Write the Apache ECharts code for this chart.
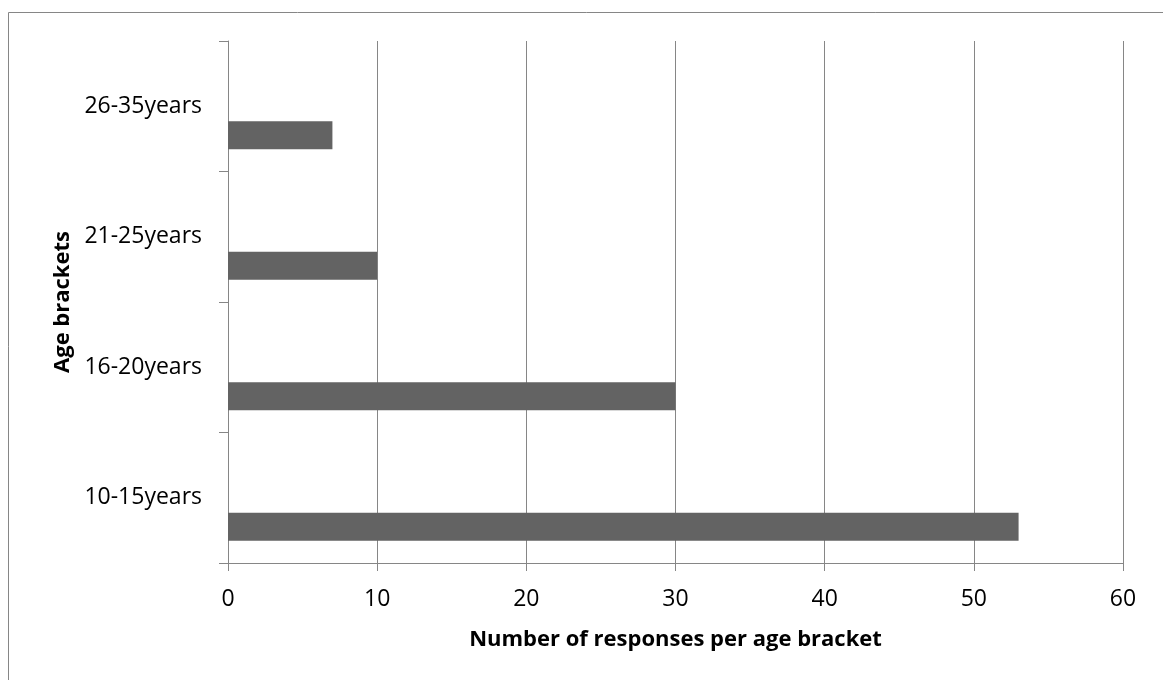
<!DOCTYPE html>
<html>
<head>
<meta charset="utf-8">
<script src="https://cdn.jsdelivr.net/npm/echarts@6/dist/echarts.min.js"></script>
<style>
html,body{margin:0;padding:0;background:#fff;}
#chart{width:1163px;height:680px;}
</style>
</head>
<body>
<div id="chart"></div>
<script>
const categories = ['10-15years', '16-20years', '21-25years', '26-35years'];
const responses = [53, 30, 10, 7];
const xTicks = { min: 0, max: 60, interval: 10 };
const xTitle = 'Number of responses per age bracket';
const yTitle = 'Age brackets';

const FONT = '"Open Sans", sans-serif';
const GRAY = '#868686';
const chart = echarts.init(document.getElementById('chart'));
chart.setOption({
  animation: false,
  backgroundColor: '#fff',
  graphic: [{
    type: 'rect', silent: true, z: -1,
    shape: { x: 8.5, y: 12.5, width: 1300, height: 800 },
    style: { fill: 'none', stroke: GRAY, lineWidth: 1 }
  }],
  grid: { left: 228, right: 40, top: 41, bottom: 117, containLabel: false },
  xAxis: {
    type: 'value', min: xTicks.min, max: xTicks.max, interval: xTicks.interval,
    name: xTitle, nameLocation: 'middle', nameGap: 66,
    nameTextStyle: { fontFamily: FONT, fontSize: 22, fontWeight: 'bold', color: '#000' },
    axisLine: { show: true, lineStyle: { color: GRAY, width: 1 } },
    axisTick: { show: true, length: 8, lineStyle: { color: GRAY } },
    axisLabel: { margin: 25, fontFamily: FONT, fontSize: 23, color: '#000' },
    splitLine: { show: true, lineStyle: { color: GRAY, width: 1 } }
  },
  yAxis: {
    type: 'category', data: categories,
    name: yTitle, nameLocation: 'middle', nameGap: 154, nameRotate: 90,
    nameTextStyle: { fontFamily: FONT, fontSize: 22, fontWeight: 'bold', color: '#000' },
    axisLine: { show: true, lineStyle: { color: GRAY, width: 1 } },
    axisTick: { show: true, length: 9, lineStyle: { color: GRAY } },
    axisLabel: { margin: 26, padding: [6, 0, 0, 0], fontFamily: FONT, fontSize: 23, color: '#000' },
    splitLine: { show: false }
  },
  series: [
    { type: 'bar', data: categories.map(() => null), barWidth: 28, barGap: '107%', itemStyle: { color: '#636363' } },
    { type: 'bar', data: responses, barWidth: 28, barGap: '107%', itemStyle: { color: '#636363' } }
  ]
});
</script>
</body>
</html>
